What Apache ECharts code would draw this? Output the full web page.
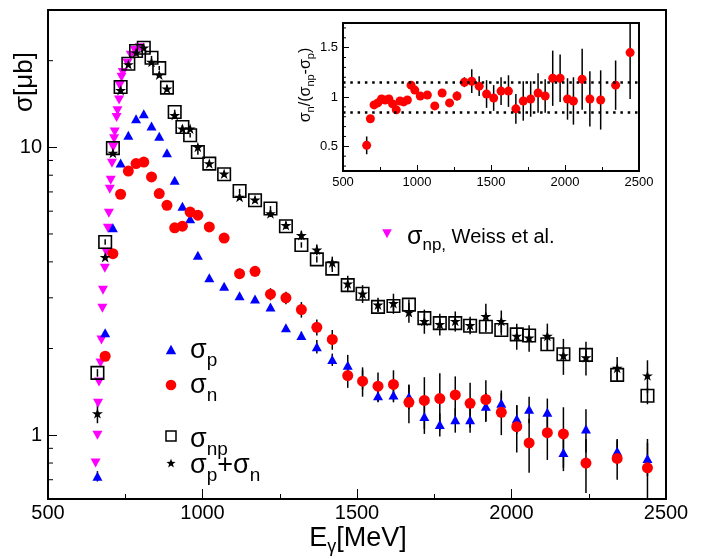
<!DOCTYPE html>
<html><head><meta charset="utf-8">
<script src="https://cdn.jsdelivr.net/npm/echarts@6/dist/echarts.min.js"></script>
<style>html,body{margin:0;padding:0;background:#fff}#c{width:710px;height:559px}</style>
</head><body><div id="c"></div>
<script>
// ---------- DATA ----------
const energies = [660, 685, 710, 735, 760, 785, 810, 835, 860, 885, 910, 935, 960, 985, 1022, 1070, 1120, 1170, 1220, 1270, 1320, 1370, 1420, 1470, 1518, 1568, 1618, 1668, 1718, 1768, 1818, 1866, 1917, 1967, 2017, 2057, 2116, 2168, 2241, 2342, 2440];
const sigmaP = [0.72, 2.27, 5.25, 8.82, 11.01, 12.58, 13.09, 11.86, 10.92, 9.58, 7.68, 6.24, 5.65, 4.22, 3.52, 3.29, 3.05, 2.97, 2.79, 2.36, 2.22, 2.03, 1.83, 1.75, 1.56, 1.37, 1.38, 1.36, 1.16, 1.09, 1.13, 1.13, 1.26, 1.29, 1.14, 1.23, 1.20, 0.87, 1.05, 0.88, 0.83];
const errP = [0.03, 0.03, 0.05, 0.07, 0.08, 0.1, 0.1, 0.1, 0.1, 0.08, 0.07, 0.06, 0.05, 0.05, 0.04, 0.04, 0.04, 0.04, 0.04, 0.05, 0.07, 0.11, 0.09, 0.15, 0.12, 0.07, 0.08, 0.13, 0.15, 0.10, 0.11, 0.11, 0.14, 0.14, 0.13, 0.13, 0.14, 0.12, 0.18, 0.09, 0.11];
const sigmaN = [null, 1.88, 4.27, 6.87, 8.27, 8.78, 8.89, 7.89, 6.91, 6.29, 5.25, 5.32, 5.96, 5.81, 5.29, 4.84, 3.64, 3.71, 3.09, 3.00, 2.73, 2.37, 2.15, 1.61, 1.54, 1.48, 1.50, 1.30, 1.32, 1.34, 1.38, 1.29, 1.33, 1.20, 1.07, 0.94, 1.02, 1.01, 0.80, 0.83, 0.77];
const errN = [null, 0.05, 0.08, 0.1, 0.1, 0.1, 0.1, 0.1, 0.1, 0.1, 0.2, 0.2, 0.1, 0.1, 0.1, 0.1, 0.15, 0.15, 0.15, 0.15, 0.17, 0.15, 0.17, 0.15, 0.18, 0.17, 0.18, 0.20, 0.27, 0.30, 0.22, 0.23, 0.22, 0.20, 0.20, 0.20, 0.20, 0.24, 0.17, 0.13, 0.20];
const sigmaNP = [1.646, 4.69, 9.94, 16.20, 19.52, 21.60, 22.19, 20.48, 18.85, 16.12, 13.26, 11.76, 11.01, 9.63, 8.78, 8.06, 7.05, 6.55, 6.13, 5.32, 4.58, 4.08, 3.79, 3.32, 3.10, 2.79, 2.81, 2.84, 2.55, 2.45, 2.45, 2.40, 2.38, 2.32, 2.24, 2.22, 2.07, 1.91, 1.90, 1.62, 1.37];
const errNP = [0.05, 0.1, 0.2, 0.3, 0.3, 0.3, 0.3, 0.3, 0.3, 0.3, 0.25, 0.2, 0.2, 0.2, 0.15, 0.15, 0.12, 0.12, 0.12, 0.1, 0.1, 0.1, 0.1, 0.1, 0.1, 0.1, 0.1, 0.12, 0.1, 0.1, 0.1, 0.1, 0.1, 0.1, 0.1, 0.1, 0.1, 0.1, 0.1, 0.09, 0.09];
const sigmaSum = [1.19, 4.15, 9.55, 15.78, 19.42, 21.33, 22.19, 19.78, 17.88, 15.99, 12.92, 11.61, 11.61, 10.02, 8.78, 8.10, 6.72, 6.58, 5.89, 5.36, 4.95, 4.41, 3.98, 3.36, 3.10, 2.84, 2.87, 2.67, 2.49, 2.43, 2.49, 2.41, 2.59, 2.49, 2.21, 2.18, 2.21, 1.89, 1.86, 1.71, 1.61];
const errSum = [0.09, 0.06, 0.1, 0.15, 0.15, 0.15, 0.15, 0.15, 0.15, 0.13, 0.2, 0.2, 0.12, 0.12, 0.12, 0.12, 0.16, 0.16, 0.16, 0.16, 0.18, 0.19, 0.19, 0.22, 0.22, 0.16, 0.23, 0.21, 0.24, 0.21, 0.20, 0.17, 0.27, 0.22, 0.23, 0.23, 0.23, 0.27, 0.25, 0.16, 0.21];
const weissE = [654, 660, 662, 665, 670, 673, 676, 678, 684, 689, 694, 697, 700, 703, 707, 711, 714, 716, 722, 725, 730, 732, 738, 742, 757, 768, 781, 797];
const weissNP = [0.80, 1.00, 1.29, 1.53, 1.78, 2.14, 2.76, 3.19, 3.80, 4.32, 5.23, 5.90, 7.15, 7.68, 8.80, 10.0, 10.7, 11.3, 12.7, 13.4, 14.6, 16.4, 17.5, 18.2, 19.6, 20.9, 21.7, 22.2];
const ratio = [0.51, 0.78, 0.92, 0.94, 0.98, 0.97, 0.98, 0.93, 0.87, 0.96, 0.95, 0.97, 1.12, 1.07, 1.01, 1.02, 0.91, 1.04, 0.94, 1.01, 1.15, 1.16, 1.11, 1.03, 0.99, 1.06, 1.06, 0.88, 0.96, 0.98, 1.04, 1.01, 1.19, 1.19, 0.98, 0.96, 1.18, 0.98, 0.97, 1.12, 1.45];
const ratioErr = [0.09, 0.03, 0.02, 0.02, 0.02, 0.02, 0.02, 0.02, 0.02, 0.02, 0.02, 0.02, 0.04, 0.03, 0.02, 0.03, 0.03, 0.03, 0.04, 0.045, 0.05, 0.12, 0.10, 0.14, 0.13, 0.14, 0.16, 0.15, 0.20, 0.18, 0.20, 0.17, 0.28, 0.24, 0.21, 0.24, 0.31, 0.28, 0.30, 0.25, 0.47];
const ratioBands = [1.15, 0.85];
const xTicks = [500, 1000, 1500, 2000, 2500];
const yMajorLabels = [1, 10];
const yMinorTicks = [0.7, 0.8, 0.9, 2, 3, 4, 5, 6, 7, 8, 9, 20];
const insetYLabels = [0.5, 1, 1.5];
const insetYMinor = [0.3, 0.4, 0.6, 0.7, 0.8, 0.9, 1.1, 1.2, 1.3, 1.4, 1.6, 1.7];

// ---------- HELPERS ----------
const FONT = "'Liberation Sans', Arial, Helvetica, sans-serif";
const mctx = document.createElement('canvas').getContext('2d');
function tw(t, s) { mctx.font = s + 'px ' + FONT; return mctx.measureText(t).width; }
function richGroup(x, y, pieces, center, rotation) {
  const total = pieces.reduce((a, p) => a + tw(p[0], p[1]), 0);
  let cx = center ? -total / 2 : 0;
  const children = pieces.map(p => {
    const el = { type: 'text', x: cx, y: p[2] || 0, silent: true,
      style: { text: p[0], font: p[1] + 'px ' + FONT, fill: '#000', align: 'left', verticalAlign: 'middle' } };
    cx += tw(p[0], p[1]);
    return el;
  });
  return { type: 'group', x: x, y: y, rotation: rotation || 0, silent: true, children: children };
}
function pairs(xs, ys) { return xs.map((x, i) => [x, ys[i]]).filter(d => d[1] != null); }
function errSeries(xs, ys, es, xi, yi, color, w) {
  const data = [];
  xs.forEach((x, i) => { if (ys[i] != null && es[i] != null) data.push([x, ys[i] - es[i], ys[i] + es[i]]); });
  return { type: 'custom', xAxisIndex: xi, yAxisIndex: yi, data: data, clip: true, silent: true,
    encode: { x: 0, y: [1, 2] },
    renderItem: function (params, api) {
      const lo = api.coord([api.value(0), api.value(1)]);
      const hi = api.coord([api.value(0), api.value(2)]);
      return { type: 'line', shape: { x1: lo[0], y1: lo[1], x2: hi[0], y2: hi[1] }, style: { stroke: color, lineWidth: w } };
    } };
}
function tickSeries(vals, xmin, xi, yi, len) {
  return { type: 'custom', xAxisIndex: xi, yAxisIndex: yi, data: vals.map(v => [xmin, v]), clip: false, silent: true,
    renderItem: function (params, api) {
      const p = api.coord([api.value(0), api.value(1)]);
      return { type: 'line', shape: { x1: p[0], y1: p[1], x2: p[0] + len, y2: p[1] }, style: { stroke: '#000', lineWidth: 1 } };
    } };
}
function starPts(cx, cy, R) {
  const pts = [];
  for (let k = 0; k < 10; k++) {
    const r = k % 2 === 0 ? R : R * 0.42;
    const a = -Math.PI / 2 + k * Math.PI / 5;
    pts.push([cx + r * Math.cos(a), cy + r * Math.sin(a)]);
  }
  return pts;
}
const STAR = 'path://M50,0L61.8,35.5L99,35.5L69,57.5L80.4,93L50,71L19.6,93L31,57.5L1,35.5L38.2,35.5Z';
const lab = (size) => ({ color: '#000', fontFamily: FONT, fontSize: size });
const plain = v => String(v);

// ---------- CHART ----------
const chart = echarts.init(document.getElementById('c'), null, { renderer: 'canvas' });
const option = {
  animation: false,
  backgroundColor: '#fff',
  grid: [
    { left: 48, top: 10, right: 44, bottom: 60, show: true, borderColor: '#000', borderWidth: 2, containLabel: false, outerBoundsMode: 'none' },
    { left: 343, top: 23, width: 296, height: 148, show: true, borderColor: '#000', borderWidth: 2, backgroundColor: '#fff', containLabel: false, outerBoundsMode: 'none' }
  ],
  xAxis: [
    { type: 'value', gridIndex: 0, min: xTicks[0], max: xTicks[xTicks.length - 1], interval: 500,
      axisLine: { show: false }, splitLine: { show: false },
      axisTick: { show: true, inside: true, length: 10, lineStyle: { color: '#000', width: 1 } },
      minorTick: { show: true, splitNumber: 2, length: 5, lineStyle: { color: '#000', width: 1 } },
      minorSplitLine: { show: false },
      axisLabel: Object.assign({ margin: 4, showMinLabel: true, showMaxLabel: true, formatter: plain }, lab(20)) },
    { type: 'value', gridIndex: 1, min: xTicks[0], max: xTicks[xTicks.length - 1], interval: 500,
      axisLine: { show: false }, splitLine: { show: false },
      axisTick: { show: true, inside: true, length: 6, lineStyle: { color: '#000', width: 1 } },
      minorTick: { show: true, splitNumber: 2, length: 4, lineStyle: { color: '#000', width: 1 } },
      minorSplitLine: { show: false },
      axisLabel: Object.assign({ margin: 5, showMinLabel: true, showMaxLabel: true, formatter: plain }, lab(13)) }
  ],
  yAxis: [
    { type: 'log', logBase: 10, gridIndex: 0, min: 0.6, max: 30,
      axisLine: { show: false }, splitLine: { show: false }, minorTick: { show: false },
      axisTick: { show: true, inside: true, length: 9, lineStyle: { color: '#000', width: 1 } },
      axisLabel: Object.assign({ margin: 6, showMinLabel: false, showMaxLabel: false,
        formatter: function (v) { for (const m of yMajorLabels) { if (Math.abs(v - m) < 1e-6 * m) return String(m); } return ''; } }, lab(20)) },
    { type: 'value', gridIndex: 1, min: 0.25, max: 1.75,
      axisLine: { show: false }, splitLine: { show: false },
      axisTick: { show: true, inside: true, length: 6, customValues: insetYLabels, lineStyle: { color: '#000', width: 1 } },
      axisLabel: Object.assign({ margin: 5, customValues: insetYLabels, formatter: plain }, lab(13)) }
  ],
  series: [
    tickSeries(yMinorTicks, xTicks[0], 0, 0, 5),
    { type: 'scatter', xAxisIndex: 0, yAxisIndex: 0, data: pairs(weissE, weissNP), symbol: 'triangle', symbolRotate: 180,
      symbolSize: [10, 9], itemStyle: { color: '#ff00ff', opacity: 1 }, silent: true },
    errSeries(energies, sigmaP, errP, 0, 0, '#000', 1.5),
    errSeries(energies, sigmaN, errN, 0, 0, '#000', 1.5),
    { type: 'scatter', xAxisIndex: 0, yAxisIndex: 0, data: pairs(energies, sigmaP), symbol: 'triangle',
      symbolSize: [10, 9], itemStyle: { color: '#0000ff', opacity: 1 }, silent: true },
    { type: 'scatter', xAxisIndex: 0, yAxisIndex: 0, data: pairs(energies, sigmaN), symbol: 'circle',
      symbolSize: 11, itemStyle: { color: '#ff0000', opacity: 1 }, silent: true },
    errSeries(energies, sigmaNP, errNP, 0, 0, '#000', 1.5),
    errSeries(energies, sigmaSum, errSum, 0, 0, '#000', 1.5),
    { type: 'scatter', xAxisIndex: 0, yAxisIndex: 0, data: pairs(energies, sigmaNP), symbol: 'rect',
      symbolSize: 12.5, itemStyle: { color: 'rgba(0,0,0,0)', borderColor: '#000', borderWidth: 1.6, opacity: 1 }, silent: true },
    { type: 'scatter', xAxisIndex: 0, yAxisIndex: 0, data: pairs(energies, sigmaSum), symbol: STAR, symbolKeepAspect: true,
      symbolSize: 11, itemStyle: { color: '#000', opacity: 1 }, silent: true },
    tickSeries(insetYMinor, xTicks[0], 1, 1, 3),
    errSeries(energies, ratio, ratioErr, 1, 1, '#000', 1.5),
    { type: 'scatter', xAxisIndex: 1, yAxisIndex: 1, data: pairs(energies, ratio), symbol: 'circle',
      symbolSize: 9, itemStyle: { color: '#ff0000', opacity: 1 }, silent: true,
      markLine: { silent: true, symbol: 'none', animation: false, label: { show: false },
        lineStyle: { color: '#000', type: [2.5, 4.8], width: 2.5 },
        data: ratioBands.map(v => ({ yAxis: v })) } }
  ],
  graphic: [
    richGroup(25, 82, [['σ[μb]', 26]], true, Math.PI / 2),
    richGroup(358, 539, [['E', 27, 0], ['γ', 18, 8], ['[MeV]', 27, 0]], true, 0),
    richGroup(306, 85, [['σ', 16, 0], ['n', 11, 5], ['/(σ', 16, 0], ['np', 11, 5], ['-σ', 16, 0], ['p', 11, 5], [')', 16, 0]], true, Math.PI / 2),
    // legend
    { type: 'polygon', silent: true, shape: { points: [[382.2, 229.3], [391.8, 229.3], [387, 238.3]] }, style: { fill: '#ff00ff' } },
    richGroup(407, 237, [['σ', 25, 0], ['np,', 17, 8], [' Weiss et al.', 20, 0]], false, 0),
    { type: 'polygon', silent: true, shape: { points: [[171, 344.8], [176.2, 354.3], [165.8, 354.3]] }, style: { fill: '#0000ff' } },
    richGroup(190, 350.1, [['σ', 27, 0], ['p', 19, 11]], false, 0),
    { type: 'circle', silent: true, shape: { cx: 171, cy: 385, r: 5.3 }, style: { fill: '#ff0000' } },
    richGroup(190, 385.1, [['σ', 27, 0], ['n', 19, 11]], false, 0),
    { type: 'rect', silent: true, shape: { x: 166, y: 431, width: 10, height: 10 }, style: { fill: 'none', stroke: '#000', lineWidth: 1.5 } },
    richGroup(190, 439.6, [['σ', 27, 0], ['np', 19, 10]], false, 0),
    { type: 'polygon', silent: true, shape: { points: starPts(171, 463.5, 4.8) }, style: { fill: '#000' } },
    richGroup(190, 465.1, [['σ', 27, 0], ['p', 19, 11], ['+σ', 27, 0], ['n', 19, 11]], false, 0)
  ]
};
chart.setOption(option);
</script></body></html>
